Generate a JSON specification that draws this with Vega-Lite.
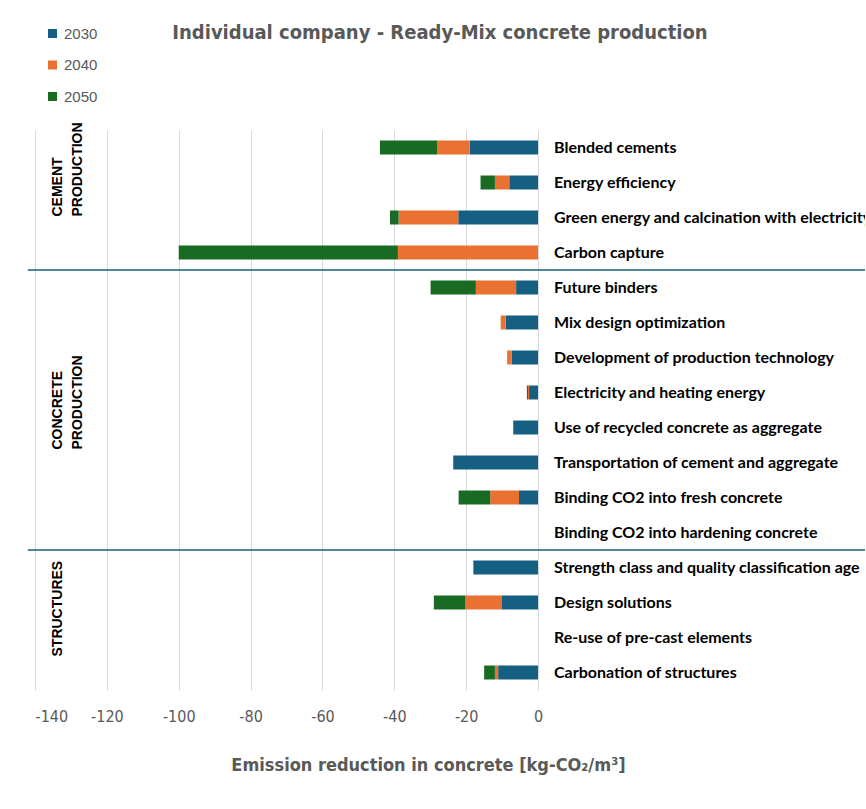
{
  "$schema": "https://vega.github.io/schema/vega-lite/v6.json",
  "width": 830,
  "height": 560,
  "autosize": {"type": "none"},
  "padding": {"left": 35, "top": 130, "right": 1, "bottom": 119},
  "background": "white",
  "title": {
    "text": "Individual company - Ready-Mix concrete production",
    "anchor": "middle",
    "frame": "group",
    "dx": -10,
    "offset": -17,
    "font": "DejaVu Sans Condensed, Roboto",
    "fontSize": 20,
    "fontWeight": "bold",
    "color": "#595959"
  },
  "config": {"view": {"stroke": null}},
  "datasets": {
    "bars": [
      {"measure": "Blended cements", "year": "2030", "value": -19},
      {"measure": "Blended cements", "year": "2040", "value": -9},
      {"measure": "Blended cements", "year": "2050", "value": -16},
      {"measure": "Energy efficiency", "year": "2030", "value": -8},
      {"measure": "Energy efficiency", "year": "2040", "value": -4},
      {"measure": "Energy efficiency", "year": "2050", "value": -4},
      {"measure": "Green energy and calcination with electricity", "year": "2030", "value": -22.2},
      {"measure": "Green energy and calcination with electricity", "year": "2040", "value": -16.6},
      {"measure": "Green energy and calcination with electricity", "year": "2050", "value": -2.4},
      {"measure": "Carbon capture", "year": "2030", "value": 0},
      {"measure": "Carbon capture", "year": "2040", "value": -39},
      {"measure": "Carbon capture", "year": "2050", "value": -61},
      {"measure": "Future binders", "year": "2030", "value": -6.1},
      {"measure": "Future binders", "year": "2040", "value": -11.2},
      {"measure": "Future binders", "year": "2050", "value": -12.6},
      {"measure": "Mix design optimization", "year": "2030", "value": -9},
      {"measure": "Mix design optimization", "year": "2040", "value": -1.4},
      {"measure": "Mix design optimization", "year": "2050", "value": 0},
      {"measure": "Development of production technology", "year": "2030", "value": -7.3},
      {"measure": "Development of production technology", "year": "2040", "value": -1.3},
      {"measure": "Development of production technology", "year": "2050", "value": 0},
      {"measure": "Electricity and heating energy", "year": "2030", "value": -2.5},
      {"measure": "Electricity and heating energy", "year": "2040", "value": -0.3},
      {"measure": "Electricity and heating energy", "year": "2050", "value": -0.3},
      {"measure": "Use of recycled concrete as aggregate", "year": "2030", "value": -6.9},
      {"measure": "Use of recycled concrete as aggregate", "year": "2040", "value": 0},
      {"measure": "Use of recycled concrete as aggregate", "year": "2050", "value": 0},
      {"measure": "Transportation of cement and aggregate", "year": "2030", "value": -23.6},
      {"measure": "Transportation of cement and aggregate", "year": "2040", "value": 0},
      {"measure": "Transportation of cement and aggregate", "year": "2050", "value": 0},
      {"measure": "Binding CO2 into fresh concrete", "year": "2030", "value": -5.3},
      {"measure": "Binding CO2 into fresh concrete", "year": "2040", "value": -8},
      {"measure": "Binding CO2 into fresh concrete", "year": "2050", "value": -8.8},
      {"measure": "Binding CO2 into hardening concrete", "year": "2030", "value": 0},
      {"measure": "Binding CO2 into hardening concrete", "year": "2040", "value": 0},
      {"measure": "Binding CO2 into hardening concrete", "year": "2050", "value": 0},
      {"measure": "Strength class and quality classification age", "year": "2030", "value": -18},
      {"measure": "Strength class and quality classification age", "year": "2040", "value": 0},
      {"measure": "Strength class and quality classification age", "year": "2050", "value": 0},
      {"measure": "Design solutions", "year": "2030", "value": -10.2},
      {"measure": "Design solutions", "year": "2040", "value": -10},
      {"measure": "Design solutions", "year": "2050", "value": -8.8},
      {"measure": "Re-use of pre-cast elements", "year": "2030", "value": 0},
      {"measure": "Re-use of pre-cast elements", "year": "2040", "value": 0},
      {"measure": "Re-use of pre-cast elements", "year": "2050", "value": 0},
      {"measure": "Carbonation of structures", "year": "2030", "value": -11.1},
      {"measure": "Carbonation of structures", "year": "2040", "value": -0.9},
      {"measure": "Carbonation of structures", "year": "2050", "value": -3}
    ],
    "separators": [
      {"after": "Carbon capture"},
      {"after": "Binding CO2 into hardening concrete"}
    ]
  },
  "layer": [
    {
      "data": {"name": "bars"},
      "mark": {"type": "bar"},
      "encoding": {
        "x": {
          "field": "value",
          "type": "quantitative",
          "stack": "zero",
          "scale": {"domain": [-140, 91], "nice": false, "zero": false},
          "axis": {
            "values": [-140, -120, -100, -80, -60, -40, -20, 0],
            "labelExpr": "'' + datum.value",
            "grid": true,
            "gridColor": "#d9d9d9",
            "gridWidth": 1,
            "domain": false,
            "ticks": false,
            "labelFont": "DejaVu Sans Condensed, Roboto",
            "labelFontSize": 16,
            "labelColor": "#595959",
            "labelPadding": 18,
            "title": "Emission reduction in concrete [kg-CO₂/m³]",
            "titleFont": "DejaVu Sans Condensed, Roboto",
            "titleFontSize": 18,
            "titleFontWeight": "bold",
            "titleColor": "#595959",
            "titlePadding": 32,
            "titleX": 393
          }
        },
        "y": {
          "field": "measure",
          "type": "nominal",
          "sort": null,
          "scale": {"paddingInner": 0.6, "paddingOuter": 0.3},
          "axis": null
        },
        "color": {
          "field": "year",
          "type": "nominal",
          "scale": {"domain": ["2030", "2040", "2050"], "range": ["#156082", "#E97132", "#196B24"]},
          "legend": {
            "title": null,
            "orient": "none",
            "legendX": 10,
            "legendY": -104,
            "symbolType": "square",
            "symbolSize": 81,
            "symbolStrokeWidth": 0,
            "labelFont": "Liberation Sans",
            "labelFontSize": 15,
            "labelColor": "#595959",
            "labelOffset": 4,
            "rowPadding": 15.5
          }
        },
        "order": {"field": "year", "type": "ordinal", "sort": "ascending"}
      }
    },
    {
      "data": {"name": "bars"},
      "transform": [{"filter": "datum.year == '2030'"}],
      "mark": {"type": "text", "align": "left", "baseline": "middle", "dx": 16, "font": "Lato", "fontWeight": "bold", "fontSize": 16, "color": "#000000", "clip": true},
      "encoding": {
        "x": {"datum": 0, "type": "quantitative"},
        "y": {"field": "measure", "type": "nominal", "sort": null},
        "text": {"field": "measure"}
      }
    },
    {
      "data": {"name": "separators"},
      "mark": {"type": "rule", "color": "#156082", "strokeWidth": 1.5, "yOffset": 17.5},
      "encoding": {
        "y": {"field": "after", "type": "nominal", "sort": null},
        "x": {"datum": -142, "type": "quantitative"},
        "x2": {"datum": 91}
      }
    },
    {
      "data": {"values": [{"label": "CEMENT\nPRODUCTION"}]},
      "mark": {"type": "text", "angle": 270, "align": "left", "baseline": "middle", "lineBreak": "\n", "lineHeight": 20, "dx": 1, "font": "Liberation Sans", "fontWeight": "bold", "fontSize": 14, "color": "#000000"},
      "encoding": {
        "x": {"datum": -133.7, "type": "quantitative"},
        "y": {"datum": "Green energy and calcination with electricity", "type": "nominal"},
        "text": {"field": "label"}
      }
    },
    {
      "data": {"values": [{"label": "CONCRETE\nPRODUCTION"}]},
      "mark": {"type": "text", "angle": 270, "align": "left", "baseline": "middle", "lineBreak": "\n", "lineHeight": 20, "dx": 13, "font": "Liberation Sans", "fontWeight": "bold", "fontSize": 14, "color": "#000000"},
      "encoding": {
        "x": {"datum": -133.7, "type": "quantitative"},
        "y": {"datum": "Transportation of cement and aggregate", "type": "nominal"},
        "text": {"field": "label"}
      }
    },
    {
      "data": {"values": [{"label": "STRUCTURES"}]},
      "mark": {"type": "text", "angle": 270, "align": "left", "baseline": "middle", "dx": 16, "font": "Liberation Sans", "fontWeight": "bold", "fontSize": 14, "color": "#000000"},
      "encoding": {
        "x": {"datum": -133.7, "type": "quantitative"},
        "y": {"datum": "Carbonation of structures", "type": "nominal"},
        "text": {"field": "label"}
      }
    }
  ]
}
